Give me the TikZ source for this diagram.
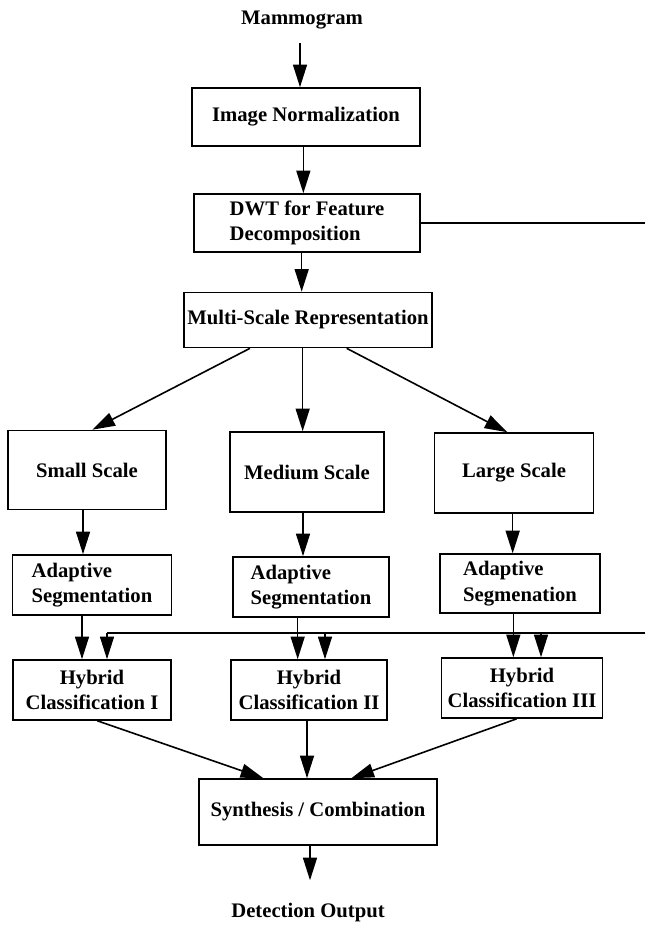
\documentclass[tikz,border=0pt]{standalone}
\usepackage{fontspec}
\setmainfont{Liberation Serif}
\usetikzlibrary{arrows.meta}

\begin{document}
\begin{tikzpicture}[x=0.75pt,y=-0.75pt]

	\tikzstyle every node=[font=\bfseries\fontsize{15.5}{19}\selectfont];
	\tikzstyle stage box=[draw, line width=1.2pt, inner sep=2pt];
	\tikzstyle flow lines=[line width=1.2pt, -{Triangle[length=17pt,width=10.5pt]}];
	\tikzstyle feedback lines=[line width=1.2pt];

	\useasboundingbox (0,0) rectangle (645,934);

	% top of the chain
	\node (mammo) at (302,20) {Mammogram};
	\node[stage box, minimum width=171pt, minimum height=43.5pt] (norm) at (306,117) {Image Normalization};
	\node[stage box, minimum width=169.5pt, minimum height=43.5pt, align=left] (dwt) at (307,223) {DWT for Feature\\Decomposition};
	\node[stage box, minimum width=186pt, minimum height=41.25pt] (multi) at (308,320) {Multi-Scale Representation};

	% the three scales
	\node[stage box, minimum width=118.5pt, minimum height=59.25pt] (small) at (87,470) {Small Scale};
	\node[stage box, minimum width=115.5pt, minimum height=60pt] (medium) at (307,472) {Medium Scale};
	\node[stage box, minimum width=119.25pt, minimum height=60pt] (large) at (514,473) {Large Scale};

	\node[stage box, minimum width=119.25pt, minimum height=45pt, align=left] (segs) at (92,585) {Adaptive\\Segmentation};
	\node[stage box, minimum width=117pt, minimum height=45pt, align=left] (segm) at (311,587) {Adaptive\\Segmentation};
	\node[stage box, minimum width=120pt, minimum height=44pt, align=left] (segl) at (520,583.5) {Adaptive\\Segmenation};

	\node[stage box, minimum width=118.5pt, minimum height=45pt, align=center] (hyb1) at (92,690) {Hybrid\\Classification I};
	\node[stage box, minimum width=117pt, minimum height=45pt, align=center] (hyb2) at (309,690) {Hybrid\\Classification II};
	\node[stage box, minimum width=120.75pt, minimum height=45pt, align=center] (hyb3) at (522,688) {Hybrid\\Classification III};

	% bottom
	\node[stage box, minimum width=178.5pt, minimum height=49.5pt] (synth) at (318,812) {Synthesis / Combination};
	\node (detect) at (308,913) {Detection Output};

	\coordinate (fb top) at (645,222);
	\coordinate (fb low) at (645,633);

	\draw[flow lines] ([xshift=-1.5pt,yshift=-6.75pt]mammo.south) -- ([xshift=-1.5pt]mammo.south |- norm.north);
	\draw[flow lines] ([xshift=-2pt]norm.south) -- ([xshift=-2pt]norm.south |- dwt.north);
	\draw[flow lines] ([xshift=-4pt]dwt.south) -- ([xshift=-4pt]dwt.south |- multi.north);

	\draw[flow lines] ([xshift=-43.5pt]multi.south) -- ([xshift=4pt]small.north);
	\draw[flow lines] ([xshift=-4pt]multi.south) -- ([xshift=-4pt]multi.south |- medium.north);
	\draw[flow lines] ([xshift=29pt]multi.south) -- ([xshift=-5pt]large.north);

	\foreach \a/\b/\dx in {small/segs/-3,medium/segm/-3,large/segl/-1}
		\draw[flow lines] ([xshift=\dx pt]\a.south) -- ([xshift=\dx pt]\a.south |- \b.north);

	\foreach \a/\b/\dx in {segs/hyb1/-7.5,segm/hyb2/-10,segl/hyb3/-5}
		\draw[flow lines] ([xshift=\dx pt]\a.south) -- ([xshift=\dx pt]\a.south |- \b.north);

	% feedback from the decomposition
	\draw[feedback lines] (dwt.east) -- (dwt.east -| fb top);
	\draw[feedback lines] (fb low) -- ([xshift=11.25pt]hyb1.north |- fb low);
	\foreach \h/\dx in {hyb1/11.25,hyb2/12,hyb3/14.25}
		\draw[flow lines] ([xshift=\dx pt]\h.north |- fb low) -- ([xshift=\dx pt]\h.north);

	\draw[flow lines] ([xshift=4pt]hyb1.south) -- ([xshift=-41pt]synth.north);
	\draw[flow lines] ([xshift=-1.5pt]hyb2.south) -- ([xshift=-1.5pt]hyb2.south |- synth.north);
	\draw[flow lines] ([xshift=-4pt]hyb3.south) -- ([xshift=25pt]synth.north);

	\draw[flow lines] ([xshift=-6pt]synth.south) -- ([xshift=-6pt,yshift=14pt]synth.south |- detect.north);

\end{tikzpicture}
\end{document}
